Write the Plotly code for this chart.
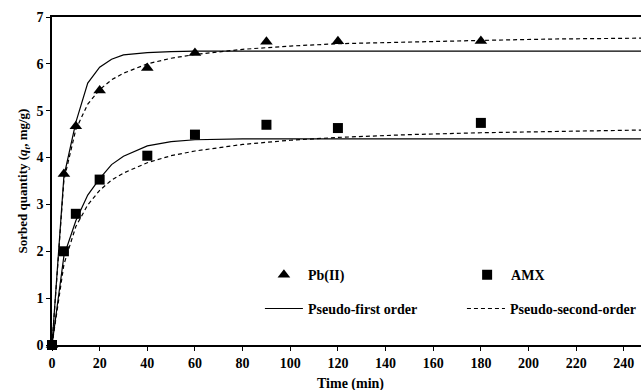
import plotly.graph_objects as go

# Experimental data
time_exp = [0, 5, 10, 20, 40, 60, 90, 120, 180]
pb_exp = [0, 3.65, 4.67, 5.43, 5.91, 6.23, 6.47, 6.48, 6.49]
amx_exp = [0, 2.0, 2.8, 3.53, 4.04, 4.49, 4.70, 4.63, 4.74]

# Model curves
time_fit = [0, 5, 10, 15, 20, 25, 30, 40, 50, 60, 80, 100, 120, 150, 180, 210, 240, 250]
pb_pfo = [0, 3.6, 4.75, 5.59, 5.93, 6.10, 6.19, 6.24, 6.26, 6.27, 6.27, 6.27, 6.27, 6.27, 6.27, 6.27, 6.27, 6.27]
pb_pso = [0, 3.52, 4.60, 5.14, 5.45, 5.66, 5.80, 6.00, 6.12, 6.20, 6.31, 6.38, 6.43, 6.47, 6.50, 6.53, 6.55, 6.55]
amx_pfo = [0, 1.9, 2.65, 3.2, 3.55, 3.85, 4.03, 4.25, 4.34, 4.38, 4.40, 4.40, 4.40, 4.40, 4.40, 4.40, 4.40, 4.40]
amx_pso = [0, 1.72, 2.53, 2.99, 3.30, 3.52, 3.67, 3.89, 4.04, 4.14, 4.28, 4.37, 4.43, 4.49, 4.53, 4.56, 4.58, 4.59]

x_ticks = [0, 20, 40, 60, 80, 100, 120, 140, 160, 180, 200, 220, 240]
y_ticks = [0, 1, 2, 3, 4, 5, 6, 7]

FONT = "Liberation Serif, Times New Roman, serif"
line_w = 1.2

fig = go.Figure()

fig.add_trace(go.Scatter(x=time_fit, y=pb_pfo, mode="lines", name="Pseudo-first order",
                         line=dict(color="black", width=line_w), legend="legend3",
                         legendgroup="pfo", showlegend=True))
fig.add_trace(go.Scatter(x=time_fit, y=amx_pfo, mode="lines", name="Pseudo-first order",
                         line=dict(color="black", width=line_w), legend="legend3",
                         legendgroup="pfo", showlegend=False))
fig.add_trace(go.Scatter(x=time_fit, y=pb_pso, mode="lines", name="Pseudo-second-order",
                         line=dict(color="black", width=line_w, dash="4px,3px"), legend="legend4",
                         legendgroup="pso", showlegend=True))
fig.add_trace(go.Scatter(x=time_fit, y=amx_pso, mode="lines", name="Pseudo-second-order",
                         line=dict(color="black", width=line_w, dash="4px,3px"), legend="legend4",
                         legendgroup="pso", showlegend=False))
fig.add_trace(go.Scatter(x=time_exp, y=pb_exp, mode="markers", name="Pb(II)",
                         marker=dict(symbol="triangle-up", size=11, color="black"),
                         cliponaxis=False, legend="legend", showlegend=True))
fig.add_trace(go.Scatter(x=time_exp, y=amx_exp, mode="markers", name="AMX",
                         marker=dict(symbol="square", size=10, color="black"),
                         cliponaxis=False, legend="legend2", showlegend=True))

leg_common = dict(font=dict(family=FONT, size=14, color="black", weight="bold"),
                  bgcolor="rgba(0,0,0,0)", itemwidth=38, yanchor="middle", xanchor="left",
                  orientation="v", visible=True)

fig.update_layout(
    width=641, height=390,
    margin=dict(l=52, r=0, t=17, b=45),
    paper_bgcolor="white", plot_bgcolor="white",
    showlegend=True,
    font=dict(family=FONT, size=14, color="black", weight="bold"),
    legend=dict(x=0.353, y=0.213, **leg_common),
    legend2=dict(x=0.698, y=0.213, **leg_common),
    legend3=dict(x=0.353, y=0.110, **leg_common),
    legend4=dict(x=0.696, y=0.110, **leg_common),
    xaxis=dict(range=[0, 247.2], tickvals=x_ticks, ticks="outside", ticklen=4,
               tickwidth=1.2, tickcolor="black", showline=True, linecolor="black",
               linewidth=1.5, mirror=True, showgrid=False, zeroline=False,
               tickfont=dict(family=FONT, size=14, weight="bold")),
    yaxis=dict(range=[0, 7], tickvals=y_ticks, ticks="outside", ticklen=4,
               tickwidth=1.2, tickcolor="black", showline=True, linecolor="black",
               linewidth=1.5, showgrid=False, zeroline=False,
               tickfont=dict(family=FONT, size=14, weight="bold"),
               title=dict(text="Sorbed quantity (<i>q</i><sub><i>t</i></sub>, mg/g)",
                          font=dict(family=FONT, size=13, weight="bold"), standoff=6)),
    annotations=[dict(text="Time (min)", xref="paper", yref="paper", x=(350 - 52) / 589,
                      y=-0.118, xanchor="center", yanchor="middle", showarrow=False,
                      font=dict(family=FONT, size=14, weight="bold"))],
)

fig.write_html("out.html")
